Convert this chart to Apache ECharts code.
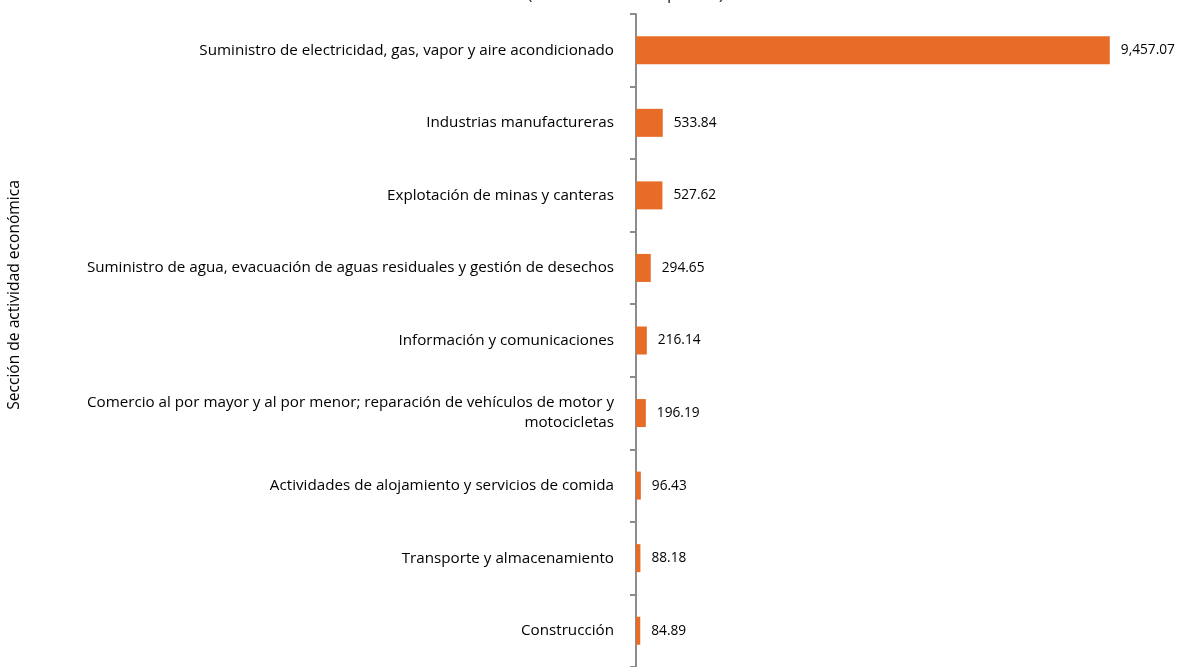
<!DOCTYPE html>
<html>
<head>
<meta charset="utf-8">
<script src="https://cdn.jsdelivr.net/npm/echarts@6/dist/echarts.min.js"></script>
<style>html,body{margin:0;padding:0;background:#fff}#c{width:1177px;height:667px}</style>
</head>
<body>
<div id="c"></div>
<script>
const categories = [
  "Suministro de electricidad, gas, vapor y aire acondicionado",
  "Industrias manufactureras",
  "Explotación de minas y canteras",
  "Suministro de agua, evacuación de aguas residuales y gestión de desechos",
  "Información y comunicaciones",
  "Comercio al por mayor y al por menor; reparación de vehículos de motor y\nmotocicletas",
  "Actividades de alojamiento y servicios de comida",
  "Transporte y almacenamiento",
  "Construcción"
];
const values = [9457.07, 533.84, 527.62, 294.65, 216.14, 196.19, 96.43, 88.18, 84.89];
const titleText = "Monto (en millones de pesos)";
const axisName = "Sección de actividad económica";

const FONT = "Open Sans";
const chart = echarts.init(document.getElementById('c'));
chart.setOption({
  animation: false,
  textStyle: { fontFamily: FONT },
  title: {
    text: titleText,
    left: 589, top: -21, textAlign: 'center',
    textStyle: { fontFamily: FONT, fontSize: 19, fontWeight: 'normal', color: '#404040' }
  },
  graphic: [{
    type: 'text',
    x: 15, y: 295, rotation: Math.PI / 2,
    style: { text: axisName, fontFamily: FONT, fontSize: 15.6, fill: '#000', align: 'center', verticalAlign: 'middle' }
  }],
  grid: { left: 636, top: 14, width: 501, height: 657, containLabel: false },
  xAxis: {
    type: 'value', min: 0, max: 10000, show: false
  },
  yAxis: {
    type: 'category', data: categories, inverse: true,
    axisLine: { show: true, lineStyle: { color: '#8c8c8c', width: 2 } },
    axisTick: { show: true, length: 6, lineStyle: { color: '#8c8c8c', width: 2 } },
    axisLabel: { margin: 22, fontFamily: FONT, fontSize: 15.2, color: '#000', lineHeight: 20, align: 'right', padding: [6, 0, 0, 0] }
  },
  series: [{
    type: 'bar', data: values, barWidth: 28,
    itemStyle: { color: '#E66C28' },
    label: {
      show: true, position: 'right', distance: 11,
      fontFamily: FONT, fontSize: 13.7, color: '#000',
      formatter: p => p.value.toLocaleString('en-US', { minimumFractionDigits: 2, maximumFractionDigits: 2 })
    }
  }]
});
</script>
</body>
</html>
